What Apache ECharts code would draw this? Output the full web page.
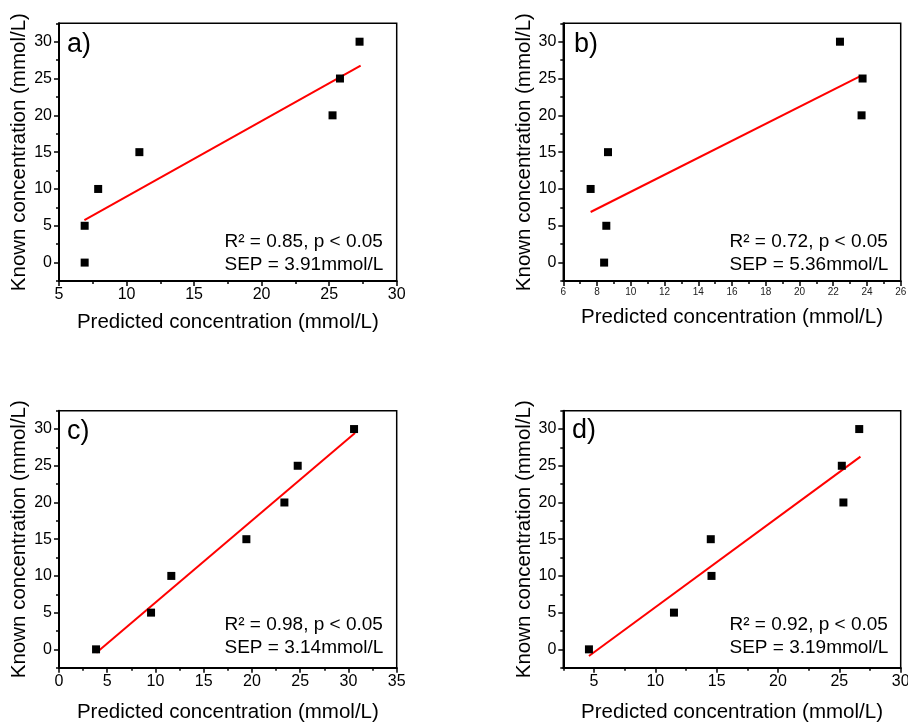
<!doctype html>
<html>
    <head>
        <meta charset="utf-8">
        <title>Known vs predicted concentration</title>
        <style>
            html, body { margin: 0; padding: 0; background: #fff; }
            #main { width: 908px; height: 723px; }
        </style>
    </head>
    <body>
        <div id="main"></div>
        <script src="https://cdn.jsdelivr.net/npm/echarts@6/dist/echarts.min.js"></script>
        <script>
            // known concentrations (y), same for all four panels
            var known = [0, 5, 10, 15, 20, 25, 30];

            // predicted concentrations (x)
            var aPred = [6.9, 6.9, 7.9, 10.95, 25.25, 25.8, 27.25];
            var bPred = [8.42, 8.55, 7.62, 8.65, 23.68, 23.74, 22.4];
            var cPred = [3.84, 9.54, 11.64, 19.42, 23.36, 24.74, 30.58];
            var dPred = [4.59, 11.52, 14.58, 14.52, 25.33, 25.2, 26.62];

            // fitted line end points
            var aFitX = [6.88, 27.33], aFitY = [5.78, 26.75];
            var bFitX = [7.62, 23.58], bFitY = [6.87, 25.3];
            var cFitX = [3.87, 30.68], cFitY = [-0.45, 29.45];
            var dFitX = [4.59, 26.72], dFitY = [-0.9, 26.25];

            // tick labels
            var yTicks = [0, 5, 10, 15, 20, 25, 30];
            var aTicksX = [5, 10, 15, 20, 25, 30];
            var bTicksX = [6, 8, 10, 12, 14, 16, 18, 20, 22, 24, 26];
            var cTicksX = [0, 5, 10, 15, 20, 25, 30, 35];
            var dTicksX = [5, 10, 15, 20, 25, 30];

            var labels = ['a)', 'b)', 'c)', 'd)'];
            var stats = [
                ['R² = 0.85, p < 0.05', 'SEP = 3.91mmol/L'],
                ['R² = 0.72, p < 0.05', 'SEP = 5.36mmol/L'],
                ['R² = 0.98, p < 0.05', 'SEP = 3.14mmol/L'],
                ['R² = 0.92, p < 0.05', 'SEP = 3.19mmol/L']
            ];

            var FONT = "'Liberation Sans', Arial, sans-serif";

            var panels = [
                { grid: { left: 59, top: 23.3, width: 337.7, height: 257.7 },
                  pred: aPred, fitX: aFitX, fitY: aFitY, ticks: aTicksX,
                  xmin: 5, xmax: 30, xstep: 2.5, xfont: 16, xGap: 31, yGap: 29,
                  lab: [67, 44.5], txt: [224.5, 241.7, 265] },
                { grid: { left: 563.3, top: 23.3, width: 337.4, height: 257.7 },
                  pred: bPred, fitX: bFitX, fitY: bFitY, ticks: bTicksX,
                  xmin: 6, xmax: 26, xstep: 1, xfont: 10, xGap: 26, yGap: 28,
                  lab: [574, 44.5], txt: [729.5, 241.7, 265] },
                { grid: { left: 59, top: 410.7, width: 337.7, height: 257 },
                  pred: cPred, fitX: cFitX, fitY: cFitY, ticks: cTicksX,
                  xmin: 0, xmax: 35, xstep: 2.5, xfont: 16, xGap: 34.5, yGap: 29,
                  lab: [67, 431.5], txt: [224.5, 625.1, 647.4] },
                { grid: { left: 563.3, top: 410.7, width: 337.4, height: 257 },
                  pred: dPred, fitX: dFitX, fitY: dFitY, ticks: dTicksX,
                  xmin: 2.5, xmax: 30, xstep: 2.5, xfont: 16, xGap: 34.5, yGap: 28,
                  lab: [572, 431], txt: [729.5, 625.1, 647.4] }
            ];

            var grids = [], xAxes = [], yAxes = [], series = [], graphics = [];

            panels.forEach(function (p, i) {
                grids.push(Object.assign({
                    show: true, borderColor: '#000', borderWidth: 1.5, backgroundColor: '#fff',
                    containLabel: false, outerBoundsMode: 'none'
                }, p.grid));

                // main x axis: line, major ticks, labels, name
                xAxes.push({
                    gridIndex: i, type: 'value', position: 'bottom', offset: 0,
                    min: p.xmin, max: p.xmax, interval: p.xstep,
                    name: 'Predicted concentration (mmol/L)', nameLocation: 'middle', nameGap: p.xGap,
                    nameTextStyle: { fontSize: 20.5, color: '#000', fontFamily: FONT },
                    axisLine: { onZero: false, lineStyle: { color: '#000', width: 2 } },
                    axisTick: { customValues: p.ticks, length: 5, lineStyle: { color: '#000', width: 1.5 } },
                    axisLabel: { customValues: p.ticks, fontSize: p.xfont, color: i === 1 ? '#222' : '#000', fontFamily: FONT, margin: 6 },
                    splitLine: { show: false }
                });
                // minor tick axis
                xAxes.push({
                    gridIndex: i, type: 'value', position: 'bottom', offset: 0,
                    min: p.xmin, max: p.xmax, interval: p.xstep,
                    axisLine: { show: false, onZero: false },
                    axisTick: { length: 3, lineStyle: { color: '#000', width: 1.5 } },
                    axisLabel: { show: false },
                    splitLine: { show: false }
                });

                yAxes.push({
                    gridIndex: i, type: 'value', position: 'left', offset: 0,
                    min: -2.5, max: 32.5, interval: 2.5,
                    name: 'Known concentration (mmol/L)', nameLocation: 'middle', nameGap: p.yGap,
                    nameTextStyle: { fontSize: 20.5, color: '#000', fontFamily: FONT },
                    axisLine: { onZero: false, lineStyle: { color: '#000', width: 2 } },
                    axisTick: { customValues: yTicks, length: 5, lineStyle: { color: '#000', width: 1.5 } },
                    axisLabel: { customValues: yTicks, fontSize: 16, color: '#000', fontFamily: FONT, margin: 7 },
                    splitLine: { show: false }
                });
                yAxes.push({
                    gridIndex: i, type: 'value', position: 'left', offset: 0,
                    min: -2.5, max: 32.5, interval: 2.5,
                    axisLine: { show: false, onZero: false },
                    axisTick: { length: 3, lineStyle: { color: '#000', width: 1.5 } },
                    axisLabel: { show: false },
                    splitLine: { show: false }
                });

                series.push({
                    type: 'line', xAxisIndex: i * 2, yAxisIndex: i * 2,
                    data: p.fitX.map(function (x, k) { return [x, p.fitY[k]]; }),
                    showSymbol: false, symbol: 'none', silent: true,
                    lineStyle: { color: '#ff0000', width: 2 }, z: 2
                });
                series.push({
                    type: 'scatter', xAxisIndex: i * 2, yAxisIndex: i * 2,
                    data: p.pred.map(function (x, k) { return [x, known[k]]; }),
                    symbol: 'rect', symbolSize: 8,
                    itemStyle: { color: '#000', opacity: 1 }, z: 3
                });

                graphics.push({
                    type: 'text', x: p.lab[0], y: p.lab[1],
                    style: { text: labels[i], fontSize: 27, fontFamily: FONT, fill: '#000', verticalAlign: 'middle' }
                });
                graphics.push({
                    type: 'text', x: p.txt[0], y: p.txt[1],
                    style: { text: stats[i][0], fontSize: 19, fontFamily: FONT, fill: '#000', verticalAlign: 'middle' }
                });
                graphics.push({
                    type: 'text', x: p.txt[0], y: p.txt[2],
                    style: { text: stats[i][1], fontSize: 19, fontFamily: FONT, fill: '#000', verticalAlign: 'middle' }
                });
            });

            var chart = echarts.init(document.getElementById('main'), null, { renderer: 'canvas' });
            chart.setOption({
                backgroundColor: '#fff',
                animation: false,
                grid: grids,
                xAxis: xAxes,
                yAxis: yAxes,
                series: series,
                graphic: graphics
            });
        </script>
    </body>
</html>
